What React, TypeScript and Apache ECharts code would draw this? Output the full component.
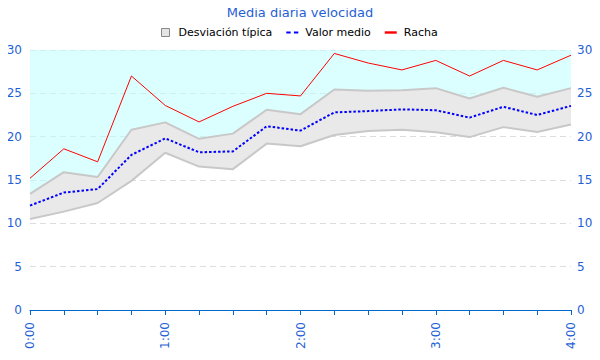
import React, { useEffect, useRef } from "react";
import * as echarts from "echarts";

const times = ["0:00","0:15","0:30","0:45","1:00","1:15","1:30","1:45","2:00","2:15","2:30","2:45","3:00","3:15","3:30","3:45","4:00"];
const racha = [15.2,18.6,17.1,27.0,23.6,21.7,23.5,25.0,24.7,29.6,28.5,27.7,28.8,27.0,28.8,27.7,29.4];
const medio = [12.05,13.55,13.95,17.9,19.8,18.2,18.3,21.2,20.7,22.8,22.95,23.15,23.05,22.2,23.45,22.5,23.55];
const bandUpper = [13.4,15.9,15.35,20.8,21.65,19.75,20.35,23.1,22.6,25.45,25.3,25.35,25.6,24.4,25.65,24.6,25.6];
const bandLower = [10.5,11.35,12.35,14.9,18.15,16.55,16.25,19.2,18.9,20.2,20.65,20.8,20.5,19.95,21.1,20.55,21.4];
const yMax = 30;

const BLUE = "#1f5fd6";
const FONT = "DejaVu Sans";

export default function App() {
  const ref = useRef<HTMLDivElement>(null);
  useEffect(() => {
    if (!ref.current) return;
    const chart = echarts.init(ref.current, null, { renderer: "svg" });
    const bandWidth = bandUpper.map((u, i) => +(u - bandLower[i]).toFixed(3));
    const topFill = bandUpper.map((u) => +(yMax - u).toFixed(3));
    const yAxisCommon = {
      type: "value",
      min: 0,
      max: yMax,
      interval: 5,
      axisLine: { show: false },
      axisTick: { show: false },
    };
    chart.setOption({
      animation: false,
      textStyle: { fontFamily: FONT },
      title: {
        text: "Media diaria velocidad",
        left: "center",
        top: 1,
        textStyle: { color: BLUE, fontSize: 13, fontWeight: "normal", fontFamily: FONT },
      },
      legend: {
        top: 22,
        left: 156,
        itemWidth: 12,
        itemHeight: 8,
        itemGap: 14,
        textStyle: { color: "#000", fontSize: 11, fontFamily: FONT, padding: [0, 0, 0, 2] },
        data: [
          { name: "Desviación típica", icon: "path://M0,0h8v8h-8z", itemStyle: { color: "#e4e4e4", borderColor: "#888", borderWidth: 1 } },
          { name: "Valor medio", icon: "path://M0,0h4v2h-4z M7,0h4v2h-4z", itemStyle: { color: "#0000ff" } },
          { name: "Racha", icon: "path://M0,0h10v2h-10z", itemStyle: { color: "#ff0000" } },
        ],
      },
      grid: { left: 30, right: 29, top: 50, bottom: 50, containLabel: false },
      xAxis: {
        type: "category",
        data: times,
        boundaryGap: false,
        axisLine: { lineStyle: { color: "#0066cc", width: 1 } },
        axisTick: { interval: 0, length: 5, lineStyle: { color: "#0066cc" } },
        axisLabel: { interval: 3, rotate: 90, color: BLUE, fontSize: 12, fontFamily: FONT, margin: 12 },
        splitLine: { show: false },
      },
      yAxis: [
        {
          ...yAxisCommon,
          position: "left",
          axisLabel: { color: BLUE, fontSize: 12, fontFamily: FONT, margin: 8 },
          splitLine: { show: true, lineStyle: { color: "#dddddd", type: [6, 4] } },
        },
        {
          ...yAxisCommon,
          position: "right",
          axisLabel: { color: BLUE, fontSize: 12, fontFamily: FONT, margin: 6 },
          splitLine: { show: false },
        },
      ],
      series: [
        {
          name: "base",
          type: "line",
          stack: "band",
          data: bandLower,
          symbol: "none",
          lineStyle: { color: "#c8c8c8", width: 2 },
          areaStyle: { opacity: 0 },
          z: 3,
          silent: true,
        },
        {
          name: "Desviación típica",
          type: "line",
          stack: "band",
          data: bandWidth,
          symbol: "none",
          itemStyle: { color: "#e4e4e4", borderColor: "#888" },
          lineStyle: { color: "#c8c8c8", width: 2 },
          areaStyle: { color: "#e9e9e9", opacity: 1 },
          z: 3,
        },
        {
          name: "top",
          type: "line",
          stack: "band",
          data: topFill,
          symbol: "none",
          lineStyle: { width: 0, opacity: 0 },
          areaStyle: { color: "rgba(190,255,255,0.55)", opacity: 1 },
          z: 1,
          silent: true,
        },
        {
          name: "Valor medio",
          type: "line",
          data: medio,
          symbol: "none",
          itemStyle: { color: "#0000ff" },
          lineStyle: { color: "#0000ff", width: 2, type: [2.5, 2] },
          z: 5,
        },
        {
          name: "Racha",
          type: "line",
          data: racha,
          symbol: "none",
          itemStyle: { color: "#ff0000" },
          lineStyle: { color: "#ff0000", width: 1 },
          z: 5,
        },
      ],
    });
    return () => chart.dispose();
  }, []);
  return <div ref={ref} style={{ width: 600, height: 360, margin: -8 }} />;
}
